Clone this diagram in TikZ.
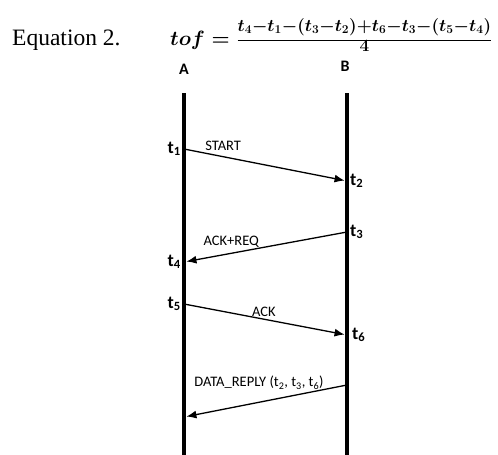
\documentclass[tikz,border=0pt]{standalone}
\usepackage[no-math]{fontspec}
\setmainfont{Carlito}
\newfontfamily\eqfont{Liberation Serif}
\usetikzlibrary{arrows.meta,positioning}

\newcommand{\fracpart}[2]{\mbox{\fontsize{#1}{22}\selectfont\boldmath\medmuskip=0mu$#2$}}

\begin{document}
\begin{tikzpicture}[x=1pt,y=-1pt,
    node distance=3pt,
    life/.style={line width=4.5pt},
    msg/.style={-{Latex[length=10pt,width=8pt]},line width=1.3pt,shorten >=2.5pt},
    tlabel/.style={font=\fontsize{18}{20}\selectfont\bfseries,inner sep=0pt},
    mlabel/.style={font=\fontsize{14.5}{16}\selectfont,inner sep=0pt},
    party/.style={font=\fontsize{16}{18}\selectfont\bfseries,inner sep=0pt},
    formula/.style={anchor=base west,inner sep=0pt,font=\fontsize{22}{26}\selectfont\boldmath}
  ]
  \useasboundingbox (0,0) rectangle (498,455);

  \node[anchor=base west,inner sep=0pt,font=\eqfont\fontsize{23.5}{26}\selectfont] (eqno) at (12,45) {Equation 2.};
  \node[formula] (tof) at (170,45) {$tof=\frac{\raisebox{5pt}{\fracpart{17.4}{t_4-t_1-(t_3-t_2)+t_6-t_3-(t_5-t_4)}}}{\raisebox{2pt}{\fracpart{19}{4}}}$};

  \node[party] (A) at (184,69) {A};
  \node[party] (B) at (345,66) {B};

  \coordinate (Atop) at (184,93);
  \coordinate (Abot) at (184,455);
  \coordinate (Btop) at (347,93);
  \coordinate (Bbot) at (347,455);
  \draw[life] (Atop) -- (Abot);
  \draw[life] (Btop) -- (Bbot);

  \coordinate (e1) at (184,149);
  \coordinate (e2) at (347,181);
  \coordinate (e3) at (347,232);
  \coordinate (e4) at (184,262);
  \coordinate (e5) at (184,304);
  \coordinate (e6) at (347,335);
  \coordinate (e7) at (347,385);
  \coordinate (e8) at (184,417);

  \node[tlabel,left=of e1] (t1) {t\textsubscript{1}};
  \node[tlabel,right=of e2] (t2) {t\textsubscript{2}};
  \node[tlabel,right=of e3] (t3) {t\textsubscript{3}};
  \node[tlabel,left=of e4] (t4) {t\textsubscript{4}};
  \node[tlabel,left=of e5] (t5) {t\textsubscript{5}};
  \node[tlabel,right=5pt of e6] (t6) {t\textsubscript{6}};

  \draw[msg] (e1) -- node[mlabel,pos=0.24,above=5pt] (start) {START} (e2);
  \draw[msg] (e3) -- node[mlabel,pos=0.71,above=5.5pt] (ackreq) {ACK+REQ} (e4);
  \draw[msg] (e5) -- node[mlabel,pos=0.49,above=2pt] (ack) {ACK} (e6);
  \draw[msg] (e7) -- node[mlabel,pos=0.54,above=12.5pt] (reply) {DATA\_REPLY (t\textsubscript{2}, t\textsubscript{3}, t\textsubscript{6})} (e8);
\end{tikzpicture}
\end{document}
